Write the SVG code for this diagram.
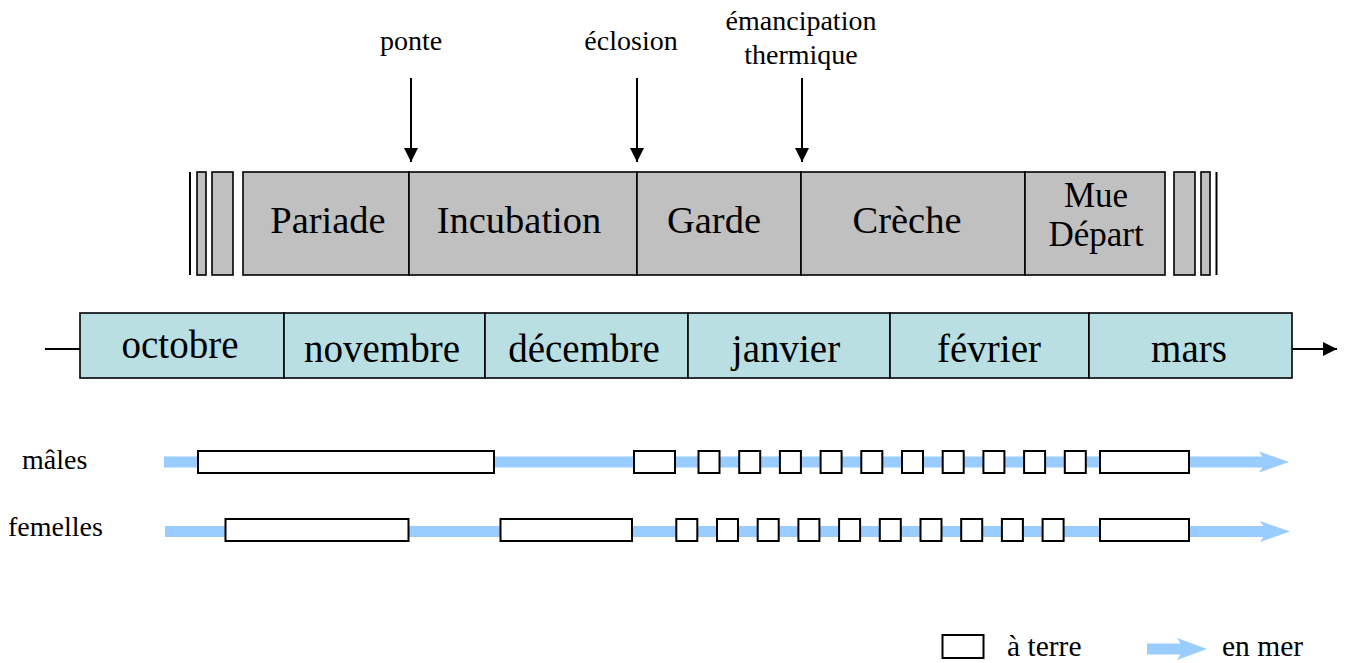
<svg xmlns="http://www.w3.org/2000/svg" width="1347" height="663" viewBox="0 0 1347 663">
  <defs>
    <style>
      text { font-family: "Liberation Serif", "Times New Roman", serif; fill: #000; }
      .phase { fill: #c0c0c0; stroke: #000; stroke-width: 1.6; }
      .month { fill: #b9dfe2; stroke: #000; stroke-width: 1.6; }
      .land { fill: #fff; stroke: #000; stroke-width: 2; }
      .sea { stroke: #99ccff; stroke-width: 11; fill: none; }
      .seahead { fill: #99ccff; }
      .lbl-top { font-size: 28px; text-anchor: middle; }
      .lbl-phase { font-size: 38.5px; text-anchor: middle; }
      .lbl-phase2 { font-size: 35px; text-anchor: middle; }
      .lbl-month { font-size: 39px; text-anchor: middle; }
      .lbl-row { font-size: 28px; }
      .lbl-legend { font-size: 29.5px; }
      .pin { stroke: #000; stroke-width: 2; }
    </style>
    <marker id="tri" viewBox="0 0 10 10" refX="10" refY="5" markerWidth="14" markerHeight="14" markerUnits="userSpaceOnUse" orient="auto">
      <path d="M0,0 L10,5 L0,10 Z" fill="#000"/>
    </marker>
  </defs>

  <!-- event markers above the phase bar -->
  <g id="events">
    <text class="lbl-top" x="411" y="50">ponte</text>
    <text class="lbl-top" x="631" y="50">éclosion</text>
    <text class="lbl-top" x="801" y="30">émancipation</text>
    <text class="lbl-top" x="801" y="64">thermique</text>
  </g>

  <!-- phase bar -->
  <g id="phases">
    <line class="pin" x1="190" y1="172" x2="190" y2="275"/>
    <rect class="phase" x="197" y="172" width="9" height="103"/>
    <rect class="phase" x="212" y="172" width="21" height="103"/>
    <rect class="phase" x="1174" y="172" width="21" height="103"/>
    <rect class="phase" x="1201" y="172" width="9" height="103"/>
    <line class="pin" x1="1216.5" y1="172" x2="1216.5" y2="275"/>
    <g id="pariade">
      <rect class="phase" x="243" y="172" width="166" height="103"/>
      <text class="lbl-phase" x="328" y="233">Pariade</text>
    </g>
    <g id="incubation">
      <rect class="phase" x="409" y="172" width="228" height="103"/>
      <text class="lbl-phase" x="519" y="233">Incubation</text>
    </g>
    <g id="garde">
      <rect class="phase" x="637" y="172" width="164" height="103"/>
      <text class="lbl-phase" x="714" y="233">Garde</text>
    </g>
    <g id="creche">
      <rect class="phase" x="801" y="172" width="224" height="103"/>
      <text class="lbl-phase" x="907" y="233">Crèche</text>
    </g>
    <g id="mue-depart">
      <rect class="phase" x="1025" y="172" width="140" height="103"/>
      <text class="lbl-phase2" x="1096" y="207">Mue</text>
      <text class="lbl-phase2" x="1096" y="246">Départ</text>
    </g>
  </g>

  <!-- month timeline -->
  <g id="months">
    <g id="octobre">
      <rect class="month" x="80" y="313" width="204" height="65"/>
      <text class="lbl-month" x="180" y="358">octobre</text>
    </g>
    <g id="novembre">
      <rect class="month" x="284" y="313" width="201" height="65"/>
      <text class="lbl-month" x="382" y="362">novembre</text>
    </g>
    <g id="decembre">
      <rect class="month" x="485" y="313" width="203" height="65"/>
      <text class="lbl-month" x="584" y="362">décembre</text>
    </g>
    <g id="janvier">
      <rect class="month" x="688" y="313" width="202" height="65"/>
      <text class="lbl-month" x="786" y="362">janvier</text>
    </g>
    <g id="fevrier">
      <rect class="month" x="890" y="313" width="199" height="65"/>
      <text class="lbl-month" x="989" y="362">février</text>
    </g>
    <g id="mars">
      <rect class="month" x="1089" y="313" width="203" height="65"/>
      <text class="lbl-month" x="1189" y="362">mars</text>
    </g>
  </g>

  <!-- connectors: event arrows and time axis -->
  <g id="connectors">
    <line class="pin" x1="411" y1="78" x2="411" y2="162" marker-end="url(#tri)"/>
    <line class="pin" x1="637" y1="78" x2="637" y2="162" marker-end="url(#tri)"/>
    <line class="pin" x1="802" y1="78" x2="802" y2="162" marker-end="url(#tri)"/>
    <line class="pin" x1="45" y1="349" x2="80" y2="349"/>
    <line class="pin" x1="1292" y1="349" x2="1337" y2="349" marker-end="url(#tri)"/>
  </g>

  <!-- males: time at sea (band) and on land (boxes) -->
  <g id="males">
    <text class="lbl-row" x="22" y="469">mâles</text>
    <line class="sea" x1="164" y1="462" x2="1266" y2="462"/>
    <polygon class="seahead" points="1259,451.5 1289,462 1259,472.5 1266,462"/>
    <rect class="land" x="198" y="451" width="296" height="22"/>
    <rect class="land" x="634" y="451" width="41" height="22"/>
    <rect class="land" x="698.5" y="451" width="21" height="22"/>
    <rect class="land" x="739.2" y="451" width="21" height="22"/>
    <rect class="land" x="779.9" y="451" width="21" height="22"/>
    <rect class="land" x="820.6" y="451" width="21" height="22"/>
    <rect class="land" x="861.3" y="451" width="21" height="22"/>
    <rect class="land" x="902" y="451" width="21" height="22"/>
    <rect class="land" x="942.7" y="451" width="21" height="22"/>
    <rect class="land" x="983.4" y="451" width="21" height="22"/>
    <rect class="land" x="1024.1" y="451" width="21" height="22"/>
    <rect class="land" x="1064.8" y="451" width="21" height="22"/>
    <rect class="land" x="1100" y="451" width="89" height="22"/>
  </g>

  <!-- females -->
  <g id="femelles">
    <text class="lbl-row" x="8" y="536">femelles</text>
    <line class="sea" x1="165" y1="531.5" x2="1267" y2="531.5"/>
    <polygon class="seahead" points="1260,521 1290,531.5 1260,542 1267,531.5"/>
    <rect class="land" x="225.5" y="519" width="183" height="22"/>
    <rect class="land" x="500.5" y="519" width="131.5" height="22"/>
    <rect class="land" x="676.3" y="519" width="21" height="22"/>
    <rect class="land" x="717" y="519" width="21" height="22"/>
    <rect class="land" x="757.7" y="519" width="21" height="22"/>
    <rect class="land" x="798.4" y="519" width="21" height="22"/>
    <rect class="land" x="839.1" y="519" width="21" height="22"/>
    <rect class="land" x="879.8" y="519" width="21" height="22"/>
    <rect class="land" x="920.5" y="519" width="21" height="22"/>
    <rect class="land" x="961.2" y="519" width="21" height="22"/>
    <rect class="land" x="1001.9" y="519" width="21" height="22"/>
    <rect class="land" x="1042.6" y="519" width="21" height="22"/>
    <rect class="land" x="1100" y="519" width="89" height="22"/>
  </g>

  <!-- legend -->
  <g id="legend">
    <rect class="land" x="942.5" y="635" width="41" height="23"/>
    <text class="lbl-legend" x="1007" y="656">à terre</text>
    <line class="sea" x1="1147" y1="649" x2="1185" y2="649"/>
    <polygon class="seahead" points="1177,638 1207,649 1177,660 1184,649"/>
    <text class="lbl-legend" x="1222" y="656">en mer</text>
  </g>
</svg>
